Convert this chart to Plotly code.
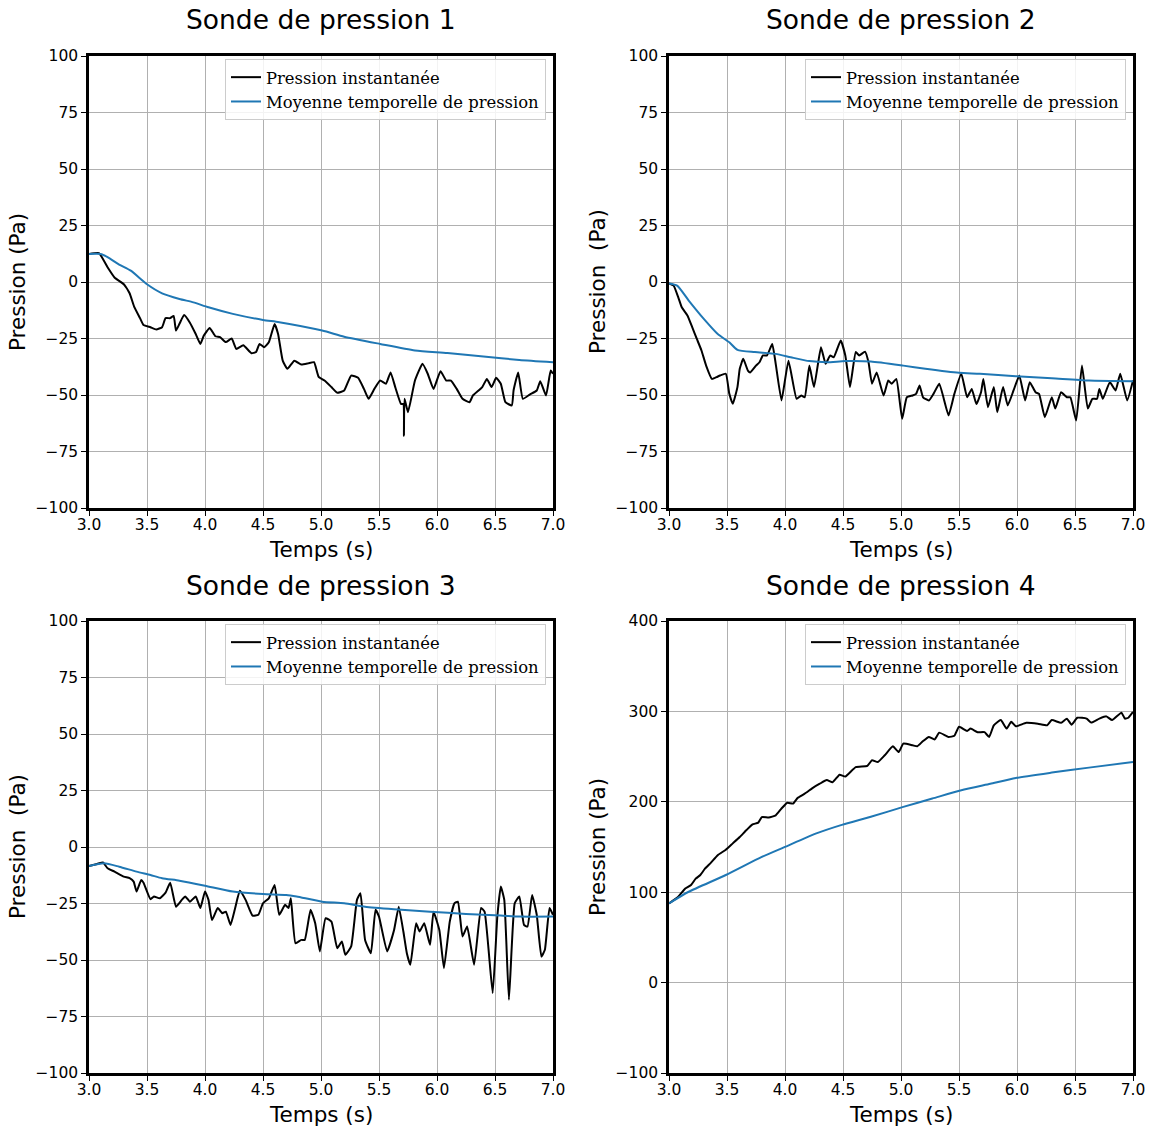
import plotly.graph_objects as go

# ---------------- data ----------------
titles = ["Sonde de pression 1", "Sonde de pression 2", "Sonde de pression 3", "Sonde de pression 4"]
ylabels = ["Pression (Pa)", "Pression\u00a0\u00a0(Pa)", "Pression\u00a0\u00a0(Pa)", "Pression (Pa)"]
xlabel = "Temps (s)"
legend_names = ["Pression instantanée", "Moyenne temporelle de pression"]
x_ticks = [3.0, 3.5, 4.0, 4.5, 5.0, 5.5, 6.0, 6.5, 7.0]

t1 = [3.0, 3.086, 3.16, 3.22, 3.30, 3.35, 3.39, 3.44, 3.47, 3.53, 3.58, 3.63, 3.66, 3.70, 3.73, 3.75,
      3.78, 3.82, 3.87, 3.92, 3.96, 3.99, 4.04, 4.09, 4.13, 4.18, 4.23, 4.27, 4.33, 4.40, 4.44, 4.47,
      4.51, 4.55, 4.60, 4.63, 4.67, 4.71, 4.77, 4.83, 4.89, 4.94, 4.98, 5.03, 5.09, 5.14, 5.20, 5.26,
      5.32, 5.37, 5.41, 5.46, 5.51, 5.56, 5.60, 5.64, 5.69, 5.71, 5.715, 5.72, 5.75, 5.81, 5.875, 5.92,
      5.97, 6.03, 6.08, 6.12, 6.17, 6.22, 6.28, 6.31, 6.39, 6.43, 6.47, 6.51, 6.55, 6.59, 6.645, 6.66,
      6.70, 6.74, 6.80, 6.86, 6.89, 6.94, 6.98, 7.0]
p1 = [12.4, 12.8, 6.5, 2.0, -1.0, -5.0, -11.0, -16.0, -19.0, -20.0, -21.0, -20.0, -16.0, -16.0, -15.0, -21.5,
      -18.5, -14.6, -18.0, -23.0, -27.4, -23.7, -20.3, -24.0, -24.4, -26.6, -25.0, -29.6, -28.0, -31.5, -31.0, -27.4,
      -28.9, -26.7, -18.6, -23.0, -34.8, -38.4, -34.8, -36.5, -36.0, -35.5, -42.0, -43.6, -46.5, -49.0, -48.0, -41.4,
      -42.4, -47.3, -51.7, -47.3, -43.6, -45.0, -40.0, -46.5, -54.0, -54.0, -68.0, -51.7, -57.6, -43.6, -36.2, -40.6,
      -47.3, -39.5, -43.6, -43.6, -47.3, -51.7, -53.2, -50.2, -46.5, -42.9, -46.5, -42.4, -45.0, -53.2, -54.6, -48.0,
      -40.0, -51.7, -49.8, -48.0, -43.9, -50.2, -39.2, -40.6]
t1m = [3.0, 3.1, 3.16, 3.26, 3.36, 3.50, 3.63, 3.78, 3.90, 4.03, 4.24, 4.50, 4.64, 5.01, 5.20, 5.51,
       5.81, 6.09, 6.40, 6.71, 7.0]
p1m = [12.4, 12.4, 11.0, 7.7, 5.0, -1.0, -5.0, -7.5, -9.0, -11.2, -14.1, -16.8, -17.8, -21.5, -24.2, -27.4,
       -30.3, -31.4, -33.0, -34.5, -35.5]

t2 = [3.0, 3.04, 3.08, 3.11, 3.16, 3.20, 3.24, 3.28, 3.32, 3.37, 3.41, 3.44, 3.49, 3.52, 3.55, 3.59,
      3.61, 3.64, 3.68, 3.70, 3.75, 3.78, 3.81, 3.845, 3.89, 3.92, 3.97, 4.03, 4.10, 4.14, 4.17, 4.21,
      4.25, 4.31, 4.35, 4.39, 4.42, 4.48, 4.52, 4.56, 4.61, 4.64, 4.69, 4.72, 4.75, 4.79, 4.85, 4.89,
      4.92, 4.96, 5.01, 5.05, 5.10, 5.13, 5.16, 5.19, 5.24, 5.28, 5.33, 5.41, 5.46, 5.52, 5.57, 5.61,
      5.65, 5.69, 5.71, 5.75, 5.80, 5.83, 5.88, 5.92, 5.97, 6.02, 6.07, 6.11, 6.16, 6.19, 6.24, 6.30,
      6.33, 6.38, 6.43, 6.46, 6.51, 6.56, 6.61, 6.65, 6.69, 6.71, 6.74, 6.80, 6.85, 6.89, 6.95, 7.0]
p2 = [-0.6, -1.6, -6.8, -11.2, -14.9, -20.0, -25.2, -30.3, -37.0, -42.9, -42.1, -41.4, -40.6, -49.5, -53.9, -46.5,
      -38.4, -34.0, -39.2, -40.0, -37.0, -35.5, -32.5, -32.5, -27.4, -36.2, -52.4, -34.8, -51.7, -50.2, -51.0, -37.0,
      -46.5, -28.9, -36.2, -32.5, -33.3, -25.9, -32.5, -46.5, -31.0, -32.5, -30.8, -35.5, -45.0, -40.0, -50.2, -43.6,
      -45.0, -42.9, -60.5, -51.0, -50.2, -49.5, -45.8, -51.0, -52.4, -49.5, -45.0, -59.0, -49.5, -40.6, -51.0, -47.3,
      -54.0, -48.8, -42.9, -55.4, -46.5, -57.6, -46.5, -54.6, -48.0, -41.4, -52.4, -44.3, -48.8, -49.5, -59.8, -51.0,
      -56.0, -48.8, -51.0, -51.0, -61.3, -37.0, -56.0, -51.7, -51.7, -47.3, -51.7, -44.3, -48.0, -40.6, -52.4, -43.6]
t2m = [3.0, 3.07, 3.17, 3.30, 3.42, 3.52, 3.59, 3.74, 3.92, 4.05, 4.21, 4.36, 4.52, 4.74, 5.02, 5.21,
       5.50, 5.68, 5.99, 6.30, 6.62, 7.0]
p2m = [-0.6, -1.6, -8.2, -16.3, -23.0, -26.7, -30.0, -31.0, -31.8, -33.3, -35.0, -35.5, -35.0, -35.2, -37.0, -38.4,
       -40.2, -40.6, -41.7, -42.6, -43.6, -43.9]

t3 = [3.0, 3.07, 3.12, 3.16, 3.22, 3.30, 3.35, 3.385, 3.41, 3.45, 3.47, 3.53, 3.56, 3.61, 3.66, 3.70,
      3.75, 3.80, 3.83, 3.87, 3.92, 3.96, 4.00, 4.03, 4.06, 4.11, 4.15, 4.18, 4.22, 4.26, 4.30, 4.35,
      4.41, 4.46, 4.50, 4.55, 4.60, 4.64, 4.69, 4.72, 4.74, 4.78, 4.83, 4.86, 4.91, 4.95, 4.99, 5.04,
      5.09, 5.14, 5.18, 5.21, 5.26, 5.31, 5.34, 5.38, 5.43, 5.47, 5.50, 5.57, 5.63, 5.67, 5.71, 5.74,
      5.77, 5.82, 5.85, 5.89, 5.94, 5.97, 6.02, 6.06, 6.11, 6.15, 6.18, 6.22, 6.26, 6.32, 6.38, 6.41,
      6.48, 6.52, 6.55, 6.58, 6.62, 6.67, 6.71, 6.75, 6.78, 6.82, 6.86, 6.90, 6.93, 6.97, 7.0]
p3 = [-8.4, -7.5, -6.8, -9.4, -10.9, -13.1, -13.8, -15.3, -19.7, -14.6, -15.8, -23.1, -21.9, -22.7, -20.2, -15.8,
      -26.4, -23.4, -21.9, -24.2, -21.9, -27.0, -19.7, -23.4, -32.3, -27.0, -29.3, -28.6, -34.5, -27.0, -19.4, -23.4,
      -30.4, -30.0, -24.9, -22.7, -16.8, -30.0, -25.6, -27.0, -22.7, -42.6, -41.1, -41.1, -27.8, -33.7, -46.2, -31.5,
      -33.0, -44.8, -41.8, -47.7, -44.0, -23.4, -20.5, -41.1, -47.0, -27.8, -30.8, -46.2, -36.7, -26.4, -37.4, -47.0,
      -52.1, -33.7, -37.4, -33.7, -43.3, -28.6, -36.7, -53.6, -33.0, -24.9, -24.2, -39.6, -35.2, -52.1, -27.0, -28.6,
      -64.7, -30.8, -17.5, -23.4, -67.6, -24.9, -21.9, -34.5, -35.2, -21.2, -30.0, -48.5, -45.5, -27.0, -30.0]
t3m = [3.0, 3.13, 3.26, 3.41, 3.53, 3.63, 3.78, 4.00, 4.24, 4.50, 4.70, 4.79, 5.01, 5.20, 5.38, 5.63,
       5.94, 6.25, 6.55, 6.71, 7.0]
p3m = [-8.4, -7.2, -8.7, -10.9, -12.4, -13.8, -14.9, -17.1, -19.7, -20.8, -21.2, -21.9, -24.2, -24.9, -26.4, -27.5,
       -28.6, -29.6, -30.3, -30.8, -30.8]

t4 = [3.0, 3.08, 3.14, 3.19, 3.23, 3.27, 3.31, 3.36, 3.42, 3.49, 3.55, 3.61, 3.67, 3.72, 3.77, 3.80,
      3.86, 3.92, 3.97, 4.02, 4.07, 4.11, 4.17, 4.24, 4.30, 4.36, 4.41, 4.47, 4.52, 4.61, 4.71, 4.75,
      4.80, 4.86, 4.93, 4.98, 5.02, 5.10, 5.14, 5.19, 5.24, 5.29, 5.33, 5.41, 5.46, 5.50, 5.57, 5.60,
      5.66, 5.72, 5.76, 5.80, 5.86, 5.91, 5.95, 5.99, 6.08, 6.18, 6.26, 6.30, 6.38, 6.43, 6.47, 6.52,
      6.60, 6.64, 6.71, 6.77, 6.82, 6.90, 6.93, 6.96, 7.0]
p4 = [87.6, 95.0, 104.0, 108.0, 115.0, 119.0, 126.0, 132.5, 141.0, 147.0, 154.0, 161.0, 169.0, 175.0, 177.0, 183.0,
      182.6, 185.0, 192.6, 199.0, 198.0, 204.4, 209.0, 215.4, 220.0, 224.0, 221.6, 230.0, 228.0, 238.4, 239.7, 246.0,
      244.0, 251.5, 261.4, 255.0, 264.4, 262.5, 261.4, 267.2, 271.7, 269.0, 276.5, 271.7, 273.0, 283.0, 278.4, 281.0,
      277.0, 277.0, 271.7, 284.6, 290.4, 281.0, 288.5, 283.5, 287.4, 286.4, 284.6, 290.4, 287.4, 292.0, 285.3, 293.0,
      292.0, 287.6, 292.0, 294.5, 290.4, 298.6, 292.0, 293.0, 299.4]
t4m = [3.0, 3.17, 3.49, 3.80, 3.99, 4.27, 4.49, 4.74, 5.02, 5.27, 5.52, 5.77, 5.99, 6.30, 6.62, 7.0]
p4m = [87.6, 100.5, 119.0, 139.0, 149.5, 165.0, 174.5, 183.4, 194.4, 203.6, 212.8, 220.0, 226.4, 232.3, 237.8, 244.0]

inst_t = [t1, t2, t3, t4]
inst_p = [p1, p2, p3, p4]
mean_t = [t1m, t2m, t3m, t4m]
mean_p = [p1m, p2m, p3m, p4m]
y_ranges = [(-100, 100), (-100, 100), (-100, 100), (-100, 400)]
y_dticks = [25, 25, 25, 100]

# ---------------- layout geometry ----------------
W, H = 1149, 1129
def px_x(v): return v / W
def px_y(v): return 1 - v / H

x_domains = [(89, 553), (669, 1133), (89, 553), (669, 1133)]
y_domains = [(56, 508), (56, 508), (621, 1073), (621, 1073)]

FONT = "DejaVu Sans"
SERIF = "DejaVu Serif"
BLUE = "#1f77b4"

fig = go.Figure()
layout = dict(
    width=W, height=H, autosize=False,
    margin=dict(l=0, r=0, t=0, b=0, pad=0, autoexpand=False),
    paper_bgcolor="white", plot_bgcolor="white",
    showlegend=True,
    font=dict(family=FONT, color="black"),
)
annotations = []

for i in range(4):
    k = "" if i == 0 else str(i + 1)
    xa, ya = "x" + k, "y" + k
    leg = "legend" + k
    fig.add_trace(go.Scatter(x=inst_t[i], y=inst_p[i], mode="lines", name=legend_names[0],
                             line=dict(color="black", width=2, shape="spline", smoothing=0.4),
                             xaxis=xa, yaxis=ya, legend=leg))
    fig.add_trace(go.Scatter(x=mean_t[i], y=mean_p[i], mode="lines", name=legend_names[1],
                             line=dict(color=BLUE, width=2, shape="spline", smoothing=0.6),
                             xaxis=xa, yaxis=ya, legend=leg))
    xd, yd = x_domains[i], y_domains[i]
    common = dict(showline=True, mirror=True, linecolor="black", linewidth=2.5,
                  showgrid=True, gridcolor="#b0b0b0", gridwidth=1, automargin=False,
                  ticks="outside", ticklen=5, tickwidth=1.2, tickcolor="black",
                  tickfont=dict(family=FONT, size=15.5, color="black"), zeroline=False)
    layout["xaxis" + k] = dict(domain=[px_x(xd[0]), px_x(xd[1])], anchor=ya, range=[3.0, 7.0],
                               tickvals=x_ticks, ticktext=["%.1f" % v for v in x_ticks],
                               ticklabelstandoff=-4, **common)
    layout["yaxis" + k] = dict(domain=[px_y(yd[1]), px_y(yd[0])], anchor=xa, range=list(y_ranges[i]),
                               dtick=y_dticks[i], tick0=0, **common)
    layout[leg] = dict(x=px_x(xd[1] - 7), y=px_y(yd[0] + 3), xanchor="right", yanchor="top",
                       bgcolor="rgba(255,255,255,0.85)", bordercolor="#cccccc", borderwidth=1,
                       font=dict(family=SERIF, size=16.4, color="black"), itemwidth=30,
                       tracegroupgap=0)
    cx = (xd[0] + xd[1]) / 2
    cy = (yd[0] + yd[1]) / 2
    annotations.append(dict(text=titles[i], x=px_x(cx), y=px_y(yd[0] - 36), xref="paper", yref="paper",
                            xanchor="center", yanchor="middle", showarrow=False,
                            font=dict(family=FONT, size=26.5, color="black")))
    annotations.append(dict(text=xlabel, x=px_x(cx), y=px_y(yd[1] + 41), xref="paper", yref="paper",
                            xanchor="center", yanchor="middle", showarrow=False,
                            font=dict(family=FONT, size=21.5, color="black")))
    annotations.append(dict(text=ylabels[i], x=px_x(xd[0] - 72), y=px_y(cy), xref="paper", yref="paper",
                            xanchor="center", yanchor="middle", showarrow=False, textangle=-90,
                            font=dict(family=FONT, size=21.5, color="black")))

layout["annotations"] = annotations
fig.update_layout(**layout)
fig.write_html("out.html", config={"responsive": False, "displayModeBar": False},
               post_script="document.body.style.margin='0px';document.body.style.padding='0px';")
